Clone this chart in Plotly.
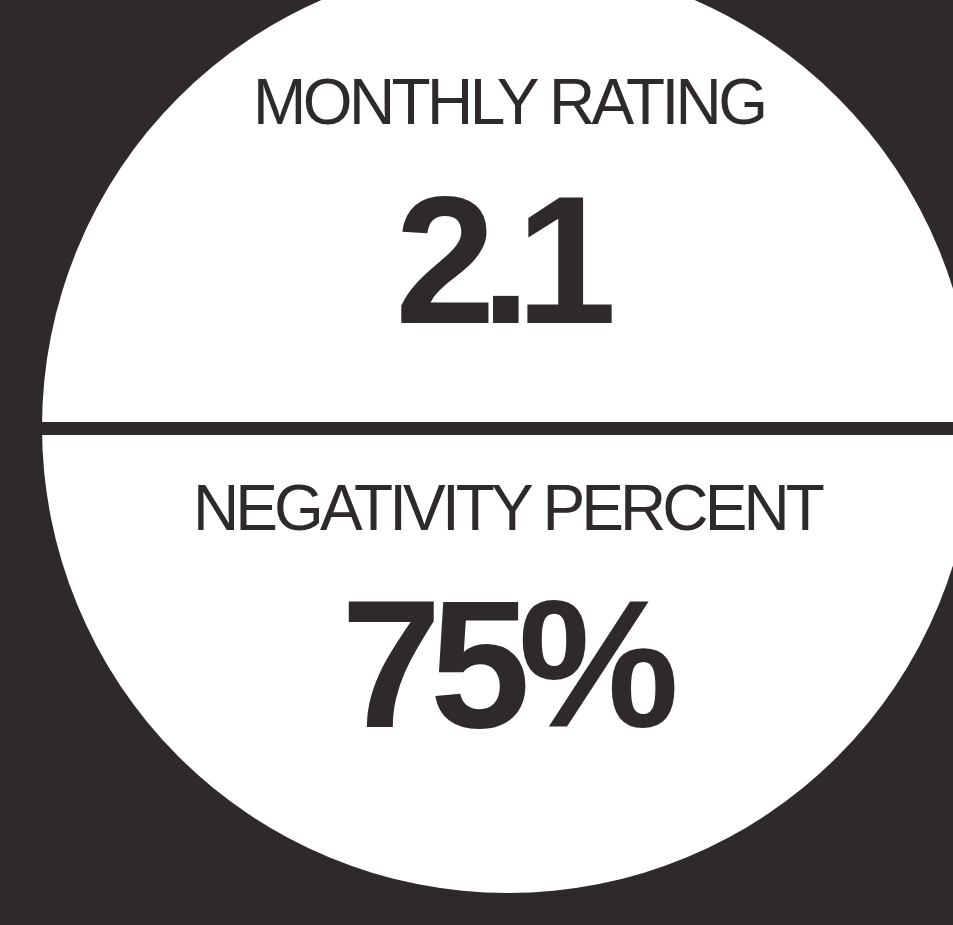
import plotly.graph_objects as go

# ---- data ----
metric_labels = ["MONTHLY RATING", "NEGATIVITY PERCENT"]
metric_values = [2.1, 75]
value_suffixes = ["", "%"]

# ---- style / layout ----
W, H = 953, 925
BG = "#2e2a2b"
FG = "#2e2a2b"
FONT = "Liberation Sans, Arial, Helvetica, sans-serif"

label_y = [101.5, 507.5]
label_spacing = [-3.6, -3.9]
value_y = [260, 664]
value_spacing = [-15, -12]
value_dx = [-5, 0]

fig = go.Figure()
fig.add_trace(go.Scatter(x=[0, W], y=[0, H], mode="markers",
                         marker=dict(opacity=0), hoverinfo="skip", showlegend=False))

# white disc
cx, cy, r = 508, 427, 466
fig.add_shape(type="circle", xref="x", yref="y",
              x0=cx - r, x1=cx + r, y0=cy - r, y1=cy + r,
              fillcolor="white", line=dict(width=0), layer="below")
# divider
fig.add_shape(type="rect", xref="x", yref="y",
              x0=cx - r, x1=W + 5, y0=422, y1=435,
              fillcolor=BG, line=dict(width=0), layer="below")

for lab, val, suf, ly, ls, vy, sp, dx in zip(metric_labels, metric_values, value_suffixes,
                                             label_y, label_spacing, value_y,
                                             value_spacing, value_dx):
    fig.add_annotation(x=cx, y=ly, xref="x", yref="y", showarrow=False,
                       xanchor="center", yanchor="middle",
                       text=f'<span style="letter-spacing:{ls}px">{lab}</span>',
                       font=dict(family=FONT, size=64, color=FG))
    vtxt = f"{val:g}{suf}"
    fig.add_annotation(x=cx + dx, y=vy, xref="x", yref="y", showarrow=False,
                       xanchor="center", yanchor="middle",
                       text=f'<span style="letter-spacing:{sp}px">{vtxt}</span>',
                       font=dict(family=FONT, size=181, color=FG, weight="bold"))

fig.update_xaxes(range=[0, W], visible=False, fixedrange=True)
fig.update_yaxes(range=[H, 0], visible=False, fixedrange=True)
fig.update_layout(width=W, height=H, margin=dict(l=0, r=0, t=0, b=0),
                  paper_bgcolor=BG, plot_bgcolor=BG, hovermode=False, showlegend=False)

fig.write_html("out.html", config={"displayModeBar": False},
               post_script="document.body.style.margin='0';document.body.style.overflow='hidden';")
